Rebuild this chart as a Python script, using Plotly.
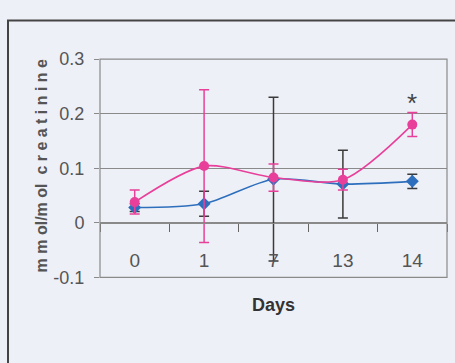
import plotly.graph_objects as go

# Sampling days (categorical axis)
days = ["0", "1", "7", "13", "14"]

# Treated group (magenta circles): mean and error
treated_mean = [0.038, 0.104, 0.083, 0.079, 0.180]
treated_err = [0.022, 0.140, 0.025, 0.019, 0.022]

# Control group (blue diamonds): mean and error
control_mean = [0.028, 0.035, 0.080, 0.071, 0.076]
control_err = [0.007, 0.023, 0.150, 0.062, 0.013]

y_ticks = [-0.1, 0, 0.1, 0.2, 0.3]
y_tick_text = ["-0.1", "0", "0.1", "0.2", "0.3"]

W, H = 455, 363
BG = "#eef0f7"
SANS = "Liberation Sans, Arial, sans-serif"

def px_x(p):
    return p / W

def px_y(p):
    return 1 - p / H

fig = go.Figure()

fig.add_trace(go.Scatter(
    x=days, y=control_mean,
    mode="lines+markers",
    line=dict(color="#2e6fbd", width=1.6, shape="spline", smoothing=0.8),
    marker=dict(symbol="diamond", size=10, color="#2e6fbd"),
    error_y=dict(type="data", array=control_err, visible=True,
                 color="#3a3a3a", thickness=1.5, width=5),
    showlegend=False,
))

fig.add_trace(go.Scatter(
    x=days, y=treated_mean,
    mode="lines+markers",
    line=dict(color="#e8409a", width=1.6, shape="spline", smoothing=0.8),
    marker=dict(symbol="circle", size=10, color="#e8409a"),
    error_y=dict(type="data", array=treated_err, visible=True,
                 color="#e8409a", thickness=1.5, width=5),
    showlegend=False,
))

# significance marker over day 14 (category index 4)
fig.add_annotation(x=days.index("14"), y=0.219, xref="x", yref="y", text="*",
                   showarrow=False, font=dict(size=26, color="#444444", family=SANS))

# axis titles
fig.add_annotation(x=px_x(273), y=px_y(325), xref="paper", yref="paper",
                   text="<b>Days</b>", showarrow=False,
                   font=dict(size=18, color="#333333", family=SANS))
fig.add_annotation(x=px_x(31), y=px_y(165), xref="paper", yref="paper",
                   text="<b>m m ol/m ol  c r e a t i n i n e</b>", textangle=-90,
                   showarrow=False,
                   font=dict(size=16, color="#555555", family=SANS))

# outer chart frame
fig.add_shape(type="rect", xref="paper", yref="paper",
              x0=px_x(8), x1=px_x(470), y0=px_y(380), y1=px_y(11),
              line=dict(color="#444444", width=2), fillcolor="rgba(0,0,0,0)",
              layer="below")

# plot area border
fig.add_shape(type="rect", xref="x domain", yref="y domain",
              x0=0, x1=1, y0=0, y1=1,
              line=dict(color="#8a8a8a", width=1.2), fillcolor="rgba(0,0,0,0)")

fig.update_layout(
    width=W, height=H,
    margin=dict(l=0, r=0, t=0, b=0),
    paper_bgcolor=BG, plot_bgcolor=BG,
    xaxis=dict(
        type="category", categoryorder="array", categoryarray=days,
        range=[-0.5, len(days) - 0.5],
        domain=[px_x(100), px_x(447)],
        anchor="free", position=px_y(225.7),
        showgrid=False, zeroline=False,
        showline=True, linecolor="#8a8a8a", linewidth=1.2,
        ticks="outside", ticklen=8, tickcolor="#666666", tickwidth=1.2,
        tickson="boundaries", tickangle=0,
        ticklabelstandoff=20,
        tickfont=dict(size=19, color="#555555", family=SANS),
    ),
    yaxis=dict(
        range=[-0.1, 0.3],
        domain=[px_y(283), px_y(52)],
        tickvals=y_ticks, ticktext=y_tick_text,
        showgrid=True, gridcolor="#8a8a8a", gridwidth=1.2,
        zeroline=False,
        showline=False,
        ticks="outside", ticklen=5, tickcolor="#8a8a8a",
        ticklabelstandoff=6,
        tickfont=dict(size=18, color="#555555", family=SANS),
    ),
)

fig.write_html("out.html")
